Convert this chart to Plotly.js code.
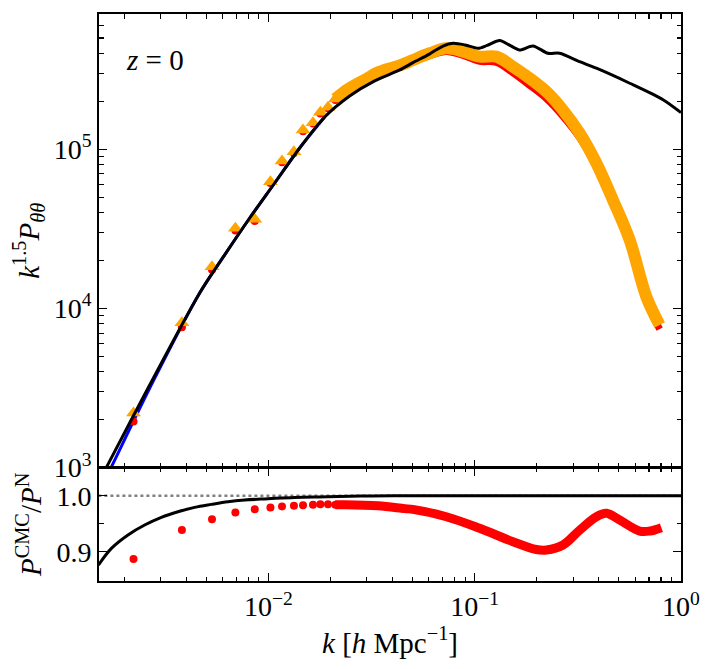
<!DOCTYPE html>
<html>
<head>
<meta charset="utf-8">
<script src="https://cdn.plot.ly/plotly-3.0.1.min.js"></script>
<style>
  html, body { margin: 0; padding: 0; background: #ffffff; }
  #chart { width: 715px; height: 669px; }
</style>
</head>
<body>
<div id="chart"></div>
<script>
// Velocity-divergence power spectrum k^1.5 P_thetatheta at z = 0 and the CMC / N-body ratio.

// Linear-theory curve (black) and the blue curve underneath it
const kLin = [1.5e-3, 1.645e-3, 2.658e-3, 4.645e-3, 6.14e-3, 8.12e-3, 1.073e-2, 1.418e-2, 1.875e-2, 2.477e-2,
              3.275e-2, 4.33e-2, 5.02e-2, 6.0e-2, 7.02e-2, 7.85e-2, 9.0e-2,
              0.1038, 0.115, 0.1322, 0.148, 0.1652, 0.1917, 0.2266, 0.258, 0.3228, 0.389, 0.564, 0.818, 1.0];
const pLin = [8.0e2, 1.01e3, 3.30e3, 1.25e4, 2.17e4, 3.70e4, 6.14e4, 1.019e5, 1.596e5, 2.163e5,
              2.69e5, 3.15e5, 3.50e5, 3.95e5, 4.45e5, 4.63e5, 4.52e5,
              4.31e5, 4.50e5, 4.82e5, 4.50e5, 4.21e5, 4.46e5, 4.01e5, 4.01e5, 3.55e5, 3.23e5, 2.60e5, 2.05e5, 1.70e5];
const kBlue = [1.5e-3, 1.645e-3, 2.658e-3, 4.645e-3, 6.14e-3, 8.12e-3, 1.073e-2, 1.418e-2, 1.875e-2];
const pBlue = [7.0e2, 8.8e2, 3.15e3, 1.25e4, 2.17e4, 3.70e4, 6.14e4, 1.019e5, 1.596e5];

// Low-k bins: N-body (orange triangles) and CMC (red circles)
const kLow   = [2.22e-3, 3.81e-3, 5.33e-3, 6.92e-3, 8.59e-3, 1.023e-2, 1.164e-2, 1.33e-2, 1.472e-2, 1.645e-2, 1.786e-2, 1.945e-2, 2.113e-2];
const pLowN  = [2.20e3, 8.13e3, 1.83e4, 3.19e4, 3.63e4, 6.26e4, 8.44e4, 9.66e4, 1.32e5, 1.47e5, 1.71e5, 1.84e5, 2.07e5];
const pLowC  = [1.95e3, 7.63e3, 1.75e4, 3.09e4, 3.54e4, 6.13e4, 8.28e4, 9.49e4, 1.30e5, 1.45e5, 1.68e5, 1.81e5, 2.04e5];
const rLow   = [0.887, 0.939, 0.958, 0.970, 0.976, 0.979, 0.981, 0.982, 0.983, 0.984, 0.985, 0.985, 0.984];

// Densely sampled bins at higher k (the points merge into a band)
const kHigh  = [0.0211, 0.0243, 0.0300, 0.0340, 0.0441, 0.0502, 0.0605, 0.0729, 0.0878, 0.1057, 0.1274,
                0.1533, 0.1848, 0.2226, 0.268, 0.3228, 0.389, 0.468, 0.564, 0.68, 0.788];
const pHighN = [2.07e5, 2.38e5, 2.78e5, 3.05e5, 3.39e5, 3.64e5, 4.01e5, 4.31e5, 4.11e5, 3.82e5, 3.82e5,
                3.30e5, 2.79e5, 2.30e5, 1.76e5, 1.26e5, 8.17e4, 4.80e4, 2.69e4, 1.18e4, 7.87e3];
const pHighC = [2.04e5, 2.34e5, 2.73e5, 3.00e5, 3.31e5, 3.55e5, 3.88e5, 4.12e5, 3.89e5, 3.57e5, 3.52e5,
                3.02e5, 2.52e5, 2.08e5, 1.61e5, 1.18e5, 7.86e4, 4.63e4, 2.54e4, 1.11e4, 7.42e3];
const kRatio = [0.0211, 0.0234, 0.0340, 0.0458, 0.0502, 0.0729, 0.1057, 0.1533, 0.1991, 0.2226, 0.2679,
                0.3228, 0.389, 0.435, 0.5046, 0.6307, 0.7053, 0.8035];
const rHigh  = [0.984, 0.984, 0.982, 0.977, 0.9757, 0.9625, 0.9418, 0.918, 0.904, 0.903, 0.912,
                0.9387, 0.9625, 0.9686, 0.9566, 0.937, 0.937, 0.943];

// Model ratio (black) in the lower panel
const kModel = [1.5e-3, 1.734e-3, 2.087e-3, 2.514e-3, 3.029e-3, 3.646e-3, 4.393e-3, 5.292e-3, 6.371e-3,
                7.676e-3, 9.956e-3, 1.341e-2, 1.945e-2, 2.82e-2, 4.0e-2, 1.0];
const rModel = [0.876, 0.906, 0.930, 0.9477, 0.9614, 0.9714, 0.9793, 0.9846, 0.9893,
                0.9923, 0.9946, 0.997, 0.998, 0.9995, 1.0, 1.0];
const kUnity = [1.5e-3, 1.0];
const rUnity = [1.0, 1.0];

// Tick labels
const xTickVals = [0.01, 0.1, 1];
const xTickText = ['10<sup>\u22122</sup>', '10<sup>\u22121</sup>', '10<sup>0</sup>'];
const yTickVals = [1e3, 1e4, 1e5];
const yTickText = ['10<sup>3</sup>', '10<sup>4</sup>', '10<sup>5</sup>'];
const rTickVals = [0.9, 1.0];
const rTickText = ['0.9', '1.0'];

// Minor tick positions on the log axes (2..9 in each decade)
function logMinor(lo, hi) {
  const out = [];
  for (let e = lo; e <= hi; e++) {
    for (let m = 2; m <= 9; m++) out.push(m * Math.pow(10, e));
  }
  return out;
}

const FONT = 'Liberation Serif, DejaVu Serif, serif';
const TICKFONT = { family: FONT, size: 28, color: '#000' };

const traces = [
  // upper panel
  { x: kBlue, y: pBlue, xaxis: 'x', yaxis: 'y', mode: 'lines', line: { color: '#0000ff', width: 3, shape: 'spline' }, hoverinfo: 'skip' },
  { x: kHigh, y: pHighC, xaxis: 'x', yaxis: 'y', mode: 'lines', line: { color: '#ff0000', width: 7, shape: 'spline' }, hoverinfo: 'skip' },
  { x: kLow, y: pLowC, xaxis: 'x', yaxis: 'y', mode: 'markers', marker: { color: '#ff0000', size: 8, symbol: 'circle' }, hoverinfo: 'skip' },
  { x: kHigh, y: pHighN, xaxis: 'x', yaxis: 'y', mode: 'lines', line: { color: '#ffa500', width: 12, shape: 'spline' }, hoverinfo: 'skip' },
  { x: kLow, y: pLowN, xaxis: 'x', yaxis: 'y', mode: 'markers', marker: { color: '#ffa500', size: 13, symbol: 'triangle-up' }, hoverinfo: 'skip' },
  { x: kLin, y: pLin, xaxis: 'x', yaxis: 'y', mode: 'lines', line: { color: '#000000', width: 3, shape: 'spline', smoothing: 0.8 }, hoverinfo: 'skip' },
  // lower panel
  { x: kUnity, y: rUnity, xaxis: 'x2', yaxis: 'y2', mode: 'lines', line: { color: '#808080', width: 2.5, dash: 'dot' }, hoverinfo: 'skip' },
  { x: kModel, y: rModel, xaxis: 'x2', yaxis: 'y2', mode: 'lines', line: { color: '#000000', width: 3, shape: 'spline' }, hoverinfo: 'skip' },
  { x: kLow, y: rLow, xaxis: 'x2', yaxis: 'y2', mode: 'markers', marker: { color: '#ff0000', size: 8 }, hoverinfo: 'skip' },
  { x: kRatio, y: rHigh, xaxis: 'x2', yaxis: 'y2', mode: 'lines', line: { color: '#ff0000', width: 9, shape: 'spline' }, hoverinfo: 'skip' }
];

const frame = {
  showline: true, linecolor: '#000', linewidth: 1.8, mirror: 'ticks',
  ticks: 'inside', ticklen: 8, tickwidth: 1.4, tickcolor: '#000',
  showgrid: false, zeroline: false, tickfont: TICKFONT
};
const minorStyle = { ticks: 'inside', ticklen: 4.5, tickwidth: 1.1, tickcolor: '#000', showgrid: false };

const layout = {
  width: 715, height: 669,
  margin: { l: 99, r: 34, t: 14, b: 88 },
  paper_bgcolor: '#fff', plot_bgcolor: '#fff',
  showlegend: false,
  font: { family: FONT, color: '#000' },
  xaxis: Object.assign({}, frame, {
    type: 'log', range: [-2.821, 0], domain: [0, 1], anchor: 'y',
    tickmode: 'array', tickvals: xTickVals, ticktext: xTickText, showticklabels: false,
    minor: Object.assign({ tickmode: 'array', tickvals: logMinor(-3, -1) }, minorStyle)
  }),
  yaxis: Object.assign({}, frame, {
    type: 'log', range: [3, 5.85], domain: [0.2, 1], anchor: 'x',
    tickmode: 'array', tickvals: yTickVals, ticktext: yTickText,
    minor: Object.assign({ tickmode: 'array', tickvals: logMinor(3, 5) }, minorStyle),
    title: { text: '<i>k</i><sup>1.5</sup><i>P</i><sub><i>\u03b8\u03b8</i></sub>', font: { family: FONT, size: 29 }, standoff: 6 }
  }),
  xaxis2: Object.assign({}, frame, {
    type: 'log', range: [-2.821, 0], domain: [0, 1], anchor: 'y2',
    tickmode: 'array', tickvals: xTickVals, ticktext: xTickText,
    minor: Object.assign({ tickmode: 'array', tickvals: logMinor(-3, -1) }, minorStyle),
    title: { text: '<i>k</i> [<i>h</i> Mpc<sup>\u22121</sup>]', font: { family: FONT, size: 29 }, standoff: 6 }
  }),
  yaxis2: Object.assign({}, frame, {
    range: [0.8477, 1.0503], domain: [0, 0.2], anchor: 'x2',
    tickmode: 'array', tickvals: rTickVals, ticktext: rTickText,
    minor: Object.assign({ tickmode: 'array', tickvals: [0.95] }, minorStyle),
    title: { text: '<i>P</i><sup>CMC</sup>/<i>P</i><sup>N</sup>', font: { family: FONT, size: 29 }, standoff: 6 }
  }),
  annotations: [
    { text: '<i>z</i> = 0', xref: 'paper', yref: 'paper', x: 0.043, y: 0.919,
      xanchor: 'left', yanchor: 'middle', showarrow: false, font: { family: FONT, size: 29, color: '#000' } }
  ]
};

Plotly.newPlot('chart', traces, layout, { displayModeBar: false, staticPlot: true });
</script>
</body>
</html>
